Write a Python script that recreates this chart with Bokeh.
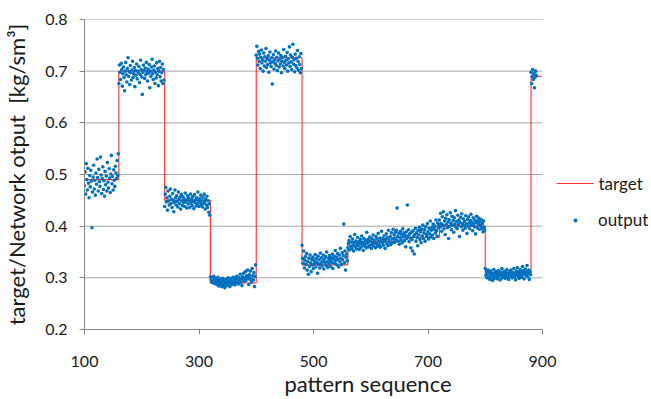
from bokeh.plotting import figure
from bokeh.models import FixedTicker, Legend, LegendItem, Range1d, Label, BoxAnnotation
from bokeh.embed import file_html
from bokeh.resources import INLINE

# ---- data ----
seg_start = [100, 160, 240, 320, 400, 480, 560, 640, 720, 800, 880]
seg_end = [160, 240, 320, 400, 480, 560, 640, 720, 800, 880, 898]
seg_target = [0.490, 0.700, 0.450, 0.290, 0.726, 0.325, 0.370, 0.378, 0.400, 0.310, 0.690]

# network output per pattern (thousandths), one list per target segment
out_s1 = [478, 505, 462, 521, 490, 470, 512, 483, 455, 498,
          476, 508, 487, 397, 466, 495, 518, 472, 489, 460,
          503, 481, 530, 494, 468, 510, 486, 477, 534, 499,
          463, 492, 515, 471, 488, 458, 506, 480, 497, 468,
          523, 485, 474, 511, 493, 465, 501, 537, 482, 496,
          470, 509, 489, 477, 516, 503, 492, 527, 498, 540]
out_s2 = [676, 712, 698, 684, 715, 703, 671, 695, 708, 688,
          662, 700, 717, 693, 679, 705, 726, 690, 699, 674,
          711, 697, 683, 702, 719, 688, 695, 707, 670, 701,
          692, 714, 685, 700, 697, 709, 678, 694, 721, 703,
          689, 655, 698, 712, 701, 686, 706, 693, 717, 699,
          681, 704, 696, 713, 668, 700, 690, 708, 723, 695,
          684, 702, 710, 676, 698, 687, 716, 693, 705, 672,
          700, 719, 689, 707, 681, 697, 714, 676, 703, 683]
out_s3 = [438, 462, 475, 447, 455, 431, 468, 449, 441, 458,
          472, 444, 452, 436, 463, 450, 428, 446, 470, 455,
          441, 459, 448, 437, 466, 452, 444, 456, 433, 461,
          449, 440, 457, 446, 453, 438, 464, 447, 451, 435,
          459, 443, 455, 449, 436, 462, 445, 452, 440, 457,
          448, 434, 461, 446, 451, 439, 455, 443, 466, 449,
          438, 453, 446, 460, 441, 450, 437, 456, 444, 462,
          447, 433, 452, 441, 458, 436, 449, 427, 443, 421]
out_s4 = [302, 296, 300, 291, 298, 294, 303, 289, 297, 292,
          299, 287, 295, 301, 290, 284, 296, 292, 288, 298,
          283, 293, 299, 286, 291, 281, 295, 289, 297, 285,
          292, 300, 288, 294, 283, 296, 290, 299, 287, 293,
          301, 289, 295, 286, 298, 292, 303, 290, 296, 288,
          300, 294, 307, 291, 298, 285, 302, 296, 309, 293,
          300, 312, 295, 304, 298, 315, 301, 287, 306, 297,
          313, 300, 292, 318, 304, 296, 310, 283, 303, 325]
out_s5 = [731, 748, 725, 712, 738, 719, 733, 705, 727, 741,
          716, 722, 700, 735, 710, 728, 719, 744, 707, 724,
          713, 730, 698, 721, 737, 716, 709, 726, 675, 718,
          732, 704, 722, 715, 739, 711, 727, 701, 720, 735,
          708, 723, 714, 730, 697, 719, 726, 710, 742, 717,
          705, 729, 721, 712, 736, 700, 724, 716, 747, 709,
          731, 718, 703, 727, 752, 714, 722, 699, 733, 711,
          725, 706, 740, 719, 702, 728, 713, 697, 734, 705]
out_s6 = [363, 338, 328, 352, 319, 334, 341, 326, 347, 315,
          331, 307, 338, 322, 344, 329, 312, 336, 325, 340,
          318, 333, 327, 345, 321, 337, 330, 309, 342, 326,
          335, 319, 348, 328, 339, 323, 332, 344, 317, 336,
          329, 341, 324, 350, 331, 320, 338, 327, 343, 334,
          322, 339, 330, 346, 318, 336, 342, 328, 353, 333,
          340, 325, 347, 336, 321, 344, 331, 357, 338, 326,
          349, 335, 343, 404, 329, 352, 315, 340, 346, 333]
out_s7 = [358, 366, 372, 354, 380, 361, 369, 357, 375, 363,
          352, 368, 384, 360, 371, 356, 365, 378, 362, 370,
          355, 367, 374, 359, 381, 364, 369, 353, 376, 366,
          361, 372, 358, 388, 367, 374, 360, 370, 379, 363,
          371, 357, 376, 366, 383, 362, 373, 369, 358, 380,
          366, 375, 361, 386, 370, 364, 377, 359, 372, 390,
          368, 376, 363, 381, 371, 357, 374, 385, 366, 378,
          362, 392, 373, 369, 380, 364, 387, 375, 368, 394]
out_s8 = [376, 383, 369, 388, 374, 392, 435, 380, 371, 386,
          365, 378, 390, 373, 384, 368, 395, 379, 387, 372,
          382, 360, 389, 376, 441, 381, 393, 370, 385, 377,
          358, 388, 374, 352, 391, 380, 346, 384, 396, 371,
          387, 378, 362, 392, 383, 398, 374, 389, 368, 394,
          381, 402, 376, 387, 393, 371, 399, 384, 380, 405,
          389, 375, 396, 385, 410, 379, 392, 398, 383, 404,
          376, 394, 400, 387, 412, 391, 381, 406, 397, 402]
out_s9 = [412, 398, 425, 405, 390, 418, 402, 428, 395, 410,
          384, 415, 403, 422, 397, 408, 376, 413, 400, 426,
          406, 393, 419, 402, 411, 388, 416, 404, 430, 398,
          409, 395, 421, 403, 412, 380, 407, 417, 399, 424,
          405, 392, 414, 401, 409, 396, 420, 404, 386, 413,
          400, 418, 406, 395, 411, 423, 402, 408, 391, 416,
          404, 399, 412, 385, 407, 419, 397, 410, 403, 415,
          394, 408, 401, 413, 396, 405, 389, 410, 398, 392]
out_s10 = [318, 305, 312, 300, 309, 315, 302, 311, 297, 307,
           313, 301, 308, 295, 304, 316, 299, 310, 306, 302,
           312, 298, 307, 314, 303, 309, 296, 311, 305, 318,
           300, 308, 302, 313, 306, 299, 311, 304, 316, 301,
           309, 297, 306, 312, 303, 315, 308, 300, 310, 305,
           318, 302, 309, 296, 313, 306, 320, 303, 311, 299,
           308, 316, 304, 312, 301, 322, 307, 314, 298, 310,
           317, 305, 311, 324, 302, 309, 315, 297, 312, 306]
out_s11 = [698, 676, 690, 703, 684, 695, 668, 688, 700, 692]

out_segments = [out_s1, out_s2, out_s3, out_s4, out_s5, out_s6,
                out_s7, out_s8, out_s9, out_s10, out_s11]

x_ticks = [100, 300, 500, 700, 900]
y_ticks = [0.2, 0.3, 0.4, 0.5, 0.6, 0.7, 0.8]

# ---- build target step as segments (horizontal levels + vertical jumps) ----
sx0, sx1, sy0, sy1 = [], [], [], []
for i, (s, e, v) in enumerate(zip(seg_start, seg_end, seg_target)):
    sx0.append(s); sx1.append(e); sy0.append(v); sy1.append(v)
    if i + 1 < len(seg_start):
        sx0.append(e); sx1.append(e); sy0.append(v); sy1.append(seg_target[i + 1])

ox, oy = [], []
for s, vals in zip(seg_start, out_segments):
    for i, v in enumerate(vals):
        ox.append(s + i)
        oy.append(v / 1000.0)

FONT = "Lato"
GRID = "#a6a6a6"
TXT = "#1a1a1a"
RED = "#ff3030"
BLUE = "#0070c0"

# plot area: 458 px for the 100..900 axis, the frame continues to the right
# edge so the legend can sit there without being clipped
W, H = 651, 399
LEFT, TOP, BOTTOM = 84, 19, 65
AXIS_PX = 458
x_lo, x_hi = x_ticks[0], x_ticks[-1]
x_end = x_hi + (W - LEFT - AXIS_PX) * (x_hi - x_lo) / AXIS_PX

p = figure(width=W, height=H, output_backend="svg", toolbar_location=None,
           x_range=Range1d(x_lo, x_end), y_range=Range1d(y_ticks[0], y_ticks[-1]),
           min_border_left=LEFT, min_border_right=0, min_border_top=TOP,
           min_border_bottom=BOTTOM)
p.outline_line_color = None
p.background_fill_color = "white"
p.border_fill_color = "white"

# horizontal grid lines limited to the axis extent
p.segment(x0=[x_lo] * len(y_ticks), x1=[x_hi] * len(y_ticks), y0=y_ticks, y1=y_ticks,
          line_color=GRID, line_width=1)

r_t = p.segment(x0=sx0, x1=sx1, y0=sy0, y1=sy1, line_color=RED, line_width=1.1)
r_o = p.scatter(ox, oy, size=3.6, marker="circle", fill_color=BLUE,
                line_color=None)

p.xgrid.visible = False
p.ygrid.visible = False

p.xaxis.ticker = FixedTicker(ticks=x_ticks)
p.yaxis.ticker = FixedTicker(ticks=y_ticks)
p.xaxis.bounds = (x_lo, x_hi)
for ax in (p.xaxis[0], p.yaxis[0]):
    ax.axis_line_color = "#868686"
    ax.major_tick_line_color = "#868686"
    ax.major_tick_out = 5
    ax.major_tick_in = 0
    ax.minor_tick_line_color = None
    ax.major_label_text_font = FONT
    ax.major_label_text_font_size = "16px"
    ax.major_label_text_color = TXT
    ax.axis_label_text_font = FONT
    ax.axis_label_text_font_size = "22px"
    ax.axis_label_text_font_style = "normal"
    ax.axis_label_text_color = TXT

p.xaxis.axis_label = "pattern sequence"
p.yaxis.axis_label = "target/Network otput\u00a0\u00a0[kg/sm\u00b3]"
p.yaxis.major_label_standoff = 12
p.xaxis.major_label_standoff = 21
p.yaxis.axis_label_standoff = 12
p.xaxis.axis_label_standoff = 0

# ---- legend (screen units measured from the frame's bottom-left) ----
# "target": red swatch + text
p.add_layout(BoxAnnotation(left=472, right=509, bottom=145.4, top=146.6,
                           left_units="screen", right_units="screen",
                           bottom_units="screen", top_units="screen",
                           fill_color=RED, fill_alpha=1.0, line_color=None))
p.add_layout(Label(x=514, y=146, x_units="screen", y_units="screen",
                   text="target", text_font=FONT, text_font_size="17px",
                   text_color=TXT, text_baseline="middle", text_align="left"))

# "output": legend entry tied to the scatter renderer
legend = Legend(items=[LegendItem(label="output", renderers=[r_o])],
                location=(473, 99))
legend.border_line_color = None
legend.background_fill_alpha = 0
legend.padding = 0
legend.margin = 0
legend.spacing = 16
legend.glyph_width = 36
legend.glyph_height = 10
legend.label_height = 20
legend.label_standoff = 5
legend.label_text_font = FONT
legend.label_text_font_size = "17px"
legend.label_text_color = TXT
p.add_layout(legend, "center")

open("out.html", "w").write(file_html(p, INLINE))
